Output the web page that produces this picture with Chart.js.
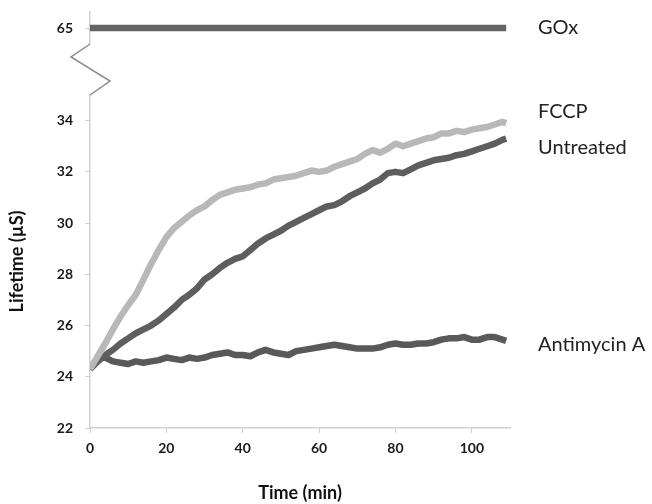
<!DOCTYPE html>
<html><head><meta charset="utf-8">
<script src="https://cdn.jsdelivr.net/npm/chart.js@4/dist/chart.umd.min.js"></script>
<style>html,body{margin:0;padding:0;background:#fff;} canvas{display:block;}</style>
</head><body>
<canvas id="c" width="652" height="504"></canvas>
<script>
// ---- data ----
const timeMin = [0,2,4,6,8,10,12,14,16,18,20,22,24,26,28,30,32,34,36,38,40,42,44,46,48,50,52,54,56,58,60,62,64,66,68,70,72,74,76,78,80,82,84,86,88,90,92,94,96,98,100,102,104,106,108,109];
const fccp = [24.3,24.8,25.3,25.85,26.35,26.8,27.2,27.8,28.4,28.95,
  29.45,29.8,30.05,30.3,30.5,30.65,30.9,31.1,31.2,31.3,
  31.35,31.4,31.5,31.55,31.7,31.75,31.8,31.85,31.95,32.05,
  32.0,32.05,32.2,32.3,32.4,32.5,32.7,32.85,32.75,32.9,
  33.1,33.0,33.1,33.2,33.3,33.35,33.5,33.5,33.6,33.55,
  33.65,33.7,33.75,33.85,33.95,33.9];
const untreated = [24.3,24.6,24.85,25.05,25.3,25.5,25.7,25.85,26.0,26.2,
  26.45,26.7,27.0,27.2,27.45,27.8,28.0,28.25,28.45,28.6,
  28.7,28.95,29.2,29.4,29.55,29.7,29.9,30.05,30.2,30.35,
  30.5,30.65,30.7,30.85,31.05,31.2,31.35,31.55,31.7,31.95,
  32.0,31.95,32.1,32.25,32.35,32.45,32.5,32.55,32.65,32.7,
  32.8,32.9,33.0,33.1,33.25,33.3];
const antimycinA = [24.3,24.7,24.75,24.6,24.55,24.5,24.6,24.55,24.6,24.65,
  24.75,24.7,24.65,24.75,24.7,24.75,24.85,24.9,24.95,24.85,
  24.85,24.8,24.95,25.05,24.95,24.9,24.85,25.0,25.05,25.1,
  25.15,25.2,25.25,25.2,25.15,25.1,25.1,25.1,25.15,25.25,
  25.3,25.25,25.25,25.3,25.3,25.35,25.45,25.5,25.5,25.55,
  25.45,25.45,25.55,25.55,25.45,25.4];
const goxTime = [0,109];
const gox = [65,65];
const xTickValues = [0,20,40,60,80,100];
const yTickValues = [22,24,26,28,30,32,34];
const yTopTickValues = [65];
const seriesNames = ['GOx','FCCP','Untreated','Antimycin A'];

// ---- styling ----
const axisColor = '#d0d0d0';
const tickFont = {family:'Lato', size:14, weight:'bold'};
const titleFont = {family:'Lato', size:18, weight:'bold'};
const pts = (xs, ys) => xs.map((t,i)=>({x:t, y:ys[i]}));
const setTicks = vals => s => { s.ticks = vals.map(v=>({value:v})); };
const fitY = s => { s.width = 90; s.paddingTop = 0; s.paddingBottom = 0; };

const endLabels = {
  id:'endLabels',
  afterDatasetsDraw(chart){
    const ctx = chart.ctx; ctx.save();
    ctx.font = '20px Lato'; ctx.fillStyle = '#222';
    ctx.textBaseline = 'middle'; ctx.textAlign = 'left';
    chart.data.datasets.forEach((ds,i)=>{
      const meta = chart.getDatasetMeta(i);
      const last = meta.data[meta.data.length-1];
      ctx.fillText(ds.label, chart.chartArea.right + 28, last.y + (ds.labelOffset||0));
    });
    ctx.restore();
  }
};
const axisBreak = {
  id:'axisBreak',
  afterDraw(chart){
    const g = chart.scales.yGap; const x = chart.chartArea.left;
    const ctx = chart.ctx; ctx.save();
    ctx.strokeStyle = '#8a8a8a'; ctx.lineWidth = 1.5;
    ctx.beginPath();
    ctx.moveTo(x, g.top);
    ctx.lineTo(x-19, g.top+13);
    ctx.lineTo(x+20, g.top+37);
    ctx.lineTo(x, g.bottom);
    ctx.stroke(); ctx.restore();
  }
};

const yCommon = {
  type:'linear', position:'left', stack:'v',
  afterFit: fitY,
  grid:{drawOnChartArea:false, drawTicks:true, tickLength:5, color:axisColor},
  border:{color:axisColor, width:1.5},
  ticks:{font:tickFont, color:'#1a1a1a', padding:12}
};

new Chart(document.getElementById('c'), {
  type:'line',
  data:{datasets:[
    {label:seriesNames[0], data:pts(goxTime,gox), yAxisID:'yTop', borderColor:'#646464', labelOffset:0},
    {label:seriesNames[1], data:pts(timeMin,fccp), yAxisID:'y', borderColor:'#b8b8b8', labelOffset:-12},
    {label:seriesNames[2], data:pts(timeMin,untreated), yAxisID:'y', borderColor:'#5e5e5e', labelOffset:9},
    {label:seriesNames[3], data:pts(timeMin,antimycinA), yAxisID:'y', borderColor:'#595959', labelOffset:4}
  ]},
  options:{
    responsive:false, animation:false,
    layout:{padding:{top:12, right:142, left:0, bottom:0}},
    plugins:{legend:{display:false}, tooltip:{enabled:false}},
    elements:{point:{radius:0}, line:{tension:0, borderWidth:6.5, borderJoinStyle:'round', borderCapStyle:'butt'}},
    scales:{
      x:{type:'linear', min:0, max:110,
        afterBuildTicks:setTicks(xTickValues),
        afterFit: s => { s.height = 76; s.paddingLeft = 0; s.paddingRight = 0; },
        grid:{drawOnChartArea:false, drawTicks:true, tickLength:5, color:axisColor},
        border:{color:axisColor, width:1.5},
        ticks:{font:tickFont, color:'#1a1a1a', padding:7, maxRotation:0},
        title:{display:true, text:'Time (min)', font:titleFont, color:'#111', padding:{top:0,bottom:0}}
      },
      y:Object.assign({}, yCommon, {stackWeight:333, min:22, max:35, afterBuildTicks:setTicks(yTickValues),
        title:{display:true, text:'Lifetime (µS)', font:titleFont, color:'#111', padding:{top:6,bottom:0}}}),
      yGap:{type:'linear', position:'left', stack:'v', stackWeight:51, min:0, max:1,
        afterFit: fitY,
        ticks:{display:false}, grid:{display:false}, border:{display:false}},
      yTop:Object.assign({}, yCommon, {stackWeight:32, min:64, max:66, afterBuildTicks:setTicks(yTopTickValues)})
    }
  },
  plugins:[endLabels, axisBreak]
});
</script>
</body></html>
